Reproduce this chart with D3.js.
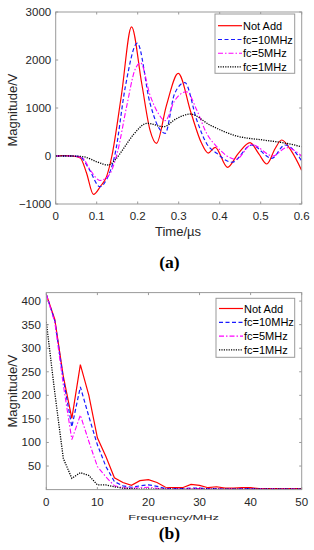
<!DOCTYPE html>
<html>
<head>
<meta charset="utf-8">
<script src="https://cdn.jsdelivr.net/npm/d3@7/dist/d3.min.js"></script>
<style>
html,body{margin:0;padding:0;background:#fff;}
svg{display:block;}
text{font-family:Arial,"Liberation Sans",sans-serif;}
</style>
</head>
<body>
<svg id="chart" width="314" height="550"></svg>
<script>
// ---------- Data (a): time domain ----------
const seriesNames = ["Not Add", "fc=10MHz", "fc=5MHz", "fc=1MHz"];
const timeTicks = [0, 0.1, 0.2, 0.3, 0.4, 0.5, 0.6];
const magTicksA = [-1000, 0, 1000, 2000, 3000];

const tNotAdd = [0, 0.02, 0.04, 0.06, 0.075, 0.092, 0.11, 0.124, 0.137, 0.16, 0.185, 0.21, 0.23, 0.246, 0.27, 0.299, 0.33, 0.355, 0.372, 0.389, 0.419, 0.445, 0.474, 0.495, 0.515, 0.535, 0.551, 0.575, 0.6];
const vNotAdd = [0, 10, 0, -40, -350, -800, -620, -430, 0, 1250, 2690, 1500, 540, 264, 1050, 1720, 900, 280, 60, 180, -236, 50, 278, 50, -167, 150, 333, 100, -300];

const t10 = [0, 0.04, 0.06, 0.08, 0.108, 0.124, 0.145, 0.17, 0.199, 0.23, 0.25, 0.267, 0.29, 0.315, 0.344, 0.368, 0.393, 0.43, 0.478, 0.527, 0.559, 0.6];
const v10 = [0, 0, -20, -250, -640, -490, 50, 1450, 2350, 1100, 610, 472, 1300, 1530, 750, 260, 56, -130, 229, -49, 229, -100];

const t5 = [0, 0.04, 0.065, 0.085, 0.108, 0.13, 0.15, 0.173, 0.193, 0.207, 0.23, 0.25, 0.267, 0.29, 0.319, 0.344, 0.368, 0.393, 0.44, 0.478, 0.53, 0.563, 0.6];
const v5 = [0, 0, -40, -300, -510, -400, 60, 1030, 1790, 1940, 1270, 890, 736, 1150, 1340, 958, 472, 194, -70, 240, 0, 174, 0];

const t1 = [0, 0.04, 0.07, 0.1, 0.128, 0.145, 0.165, 0.19, 0.223, 0.263, 0.295, 0.328, 0.376, 0.441, 0.506, 0.553, 0.6];
const v1 = [0, 0, -20, -120, -188, -80, 150, 450, 681, 611, 780, 875, 646, 417, 333, 278, 194];

// ---------- Data (b): spectrum ----------
const freqTicks = [0, 10, 20, 30, 40, 50];
const magTicksB = [50, 100, 150, 200, 250, 300, 350, 400];
const freqs = [0, 1.667, 3.333, 5, 6.667, 8.333, 10, 11.667, 13.333, 15, 16.667, 18.333, 20, 21.667, 23.333, 25, 26.667, 28.333, 30, 31.667, 33.333, 35, 36.667, 38.333, 40, 41.667, 43.333, 45, 46.667, 48.333, 50];
const sNotAdd = [414, 361, 240, 151, 265, 200, 110, 70, 25, 15, 9, 19, 21, 15, 5, 4, 4, 11, 9, 4, 6, 3, 3, 4, 4, 2, 2, 2, 2, 2, 2];
const s10 = [414, 358, 235, 133, 218, 155, 95, 49, 17, 8, 5, 8, 10, 7, 2, 2, 2, 3, 3, 2, 2, 1, 1, 2, 2, 1, 1, 1, 1, 1, 1];
const s5 = [414, 355, 222, 106, 158, 102, 49, 27, 8, 4, 3, 4, 5, 3, 1, 1, 1, 2, 2, 1, 1, 1, 1, 1, 1, 1, 1, 1, 1, 1, 1];
const s1 = [356, 205, 66, 24, 36, 30, 10, 10, 6, 3, 2, 1, 1, 1, 1, 1, 1, 1, 1, 1, 1, 1, 1, 1, 1, 1, 1, 1, 1, 1, 1];

// ---------- Styles ----------
const styles = [
  {color: "#ff0000", dash: null, width: 1.2},
  {color: "#1a1aff", dash: "4,2.5", width: 1.2},
  {color: "#ff00ff", dash: "5,2,1.5,2", width: 1.1},
  {color: "#000000", dash: "1.2,1.2", width: 1.3}
];

const svg = d3.select("#chart");
svg.append("rect").attr("width", 314).attr("height", 550).attr("fill", "#fff");

const frameColor = "#9a9a9a";
const textColor = "#262626";

function drawPanel(cfg) {
  const {x, y, xTicks, yTicks, xFmt, yFmt, series, curve, id, legend} = cfg;
  const g = svg.append("g");
  const [x0, x1] = x.range();
  const [y0, y1] = y.range();

  g.append("clipPath").attr("id", id).append("rect")
    .attr("x", x0).attr("y", y1).attr("width", x1 - x0).attr("height", y0 - y1);

  const tl = 2.5;
  xTicks.forEach(v => {
    const px = x(v);
    g.append("line").attr("x1", px).attr("x2", px).attr("y1", y0).attr("y2", y0 - tl).attr("stroke", frameColor);
    g.append("line").attr("x1", px).attr("x2", px).attr("y1", y1).attr("y2", y1 + tl).attr("stroke", frameColor);
    g.append("text").attr("x", px).attr("y", y0 + 16).attr("text-anchor", "middle")
      .attr("font-size", 11.5).attr("fill", textColor).text(xFmt(v));
  });
  yTicks.forEach(v => {
    const py = y(v);
    g.append("line").attr("x1", x0).attr("x2", x0 + tl).attr("y1", py).attr("y2", py).attr("stroke", frameColor);
    g.append("line").attr("x1", x1).attr("x2", x1 - tl).attr("y1", py).attr("y2", py).attr("stroke", frameColor);
    g.append("text").attr("x", x0 - cfg.yLabelGap).attr("y", py + 4).attr("text-anchor", "end")
      .attr("font-size", 11.5).attr("fill", textColor).text(yFmt(v));
  });

  const lineG = g.append("g").attr("clip-path", `url(#${id})`);
  series.forEach((s, i) => {
    const pts = s.xs.map((xv, k) => [xv, s.ys[k]]);
    const line = d3.line().x(d => x(d[0])).y(d => y(d[1])).curve(curve);
    lineG.append("path").attr("d", line(pts)).attr("fill", "none")
      .attr("stroke", styles[i].color).attr("stroke-width", styles[i].width)
      .attr("stroke-dasharray", styles[i].dash);
  });

  g.append("rect").attr("x", x0).attr("y", y1).attr("width", x1 - x0).attr("height", y0 - y1)
    .attr("fill", "none").attr("stroke", frameColor).attr("stroke-width", 1);

  const L = legend;
  const lg = g.append("g");
  lg.append("rect").attr("x", L.x).attr("y", L.y).attr("width", L.w).attr("height", L.h)
    .attr("fill", "#fff").attr("stroke", frameColor);
  seriesNames.forEach((name, i) => {
    const ry = L.rowY[i];
    lg.append("line").attr("x1", L.x + 3).attr("x2", L.x + 27).attr("y1", ry).attr("y2", ry)
      .attr("stroke", styles[i].color).attr("stroke-width", styles[i].width)
      .attr("stroke-dasharray", styles[i].dash);
    lg.append("text").attr("x", L.x + 28).attr("y", ry + 4).attr("font-size", 11)
      .attr("fill", "#000").text(name);
  });
  return g;
}

// Panel (a)
const xA = d3.scaleLinear().domain([0, 0.6]).range([55.7, 301.7]);
const yA = d3.scaleLinear().domain([-1000, 3000]).range([204, 12]);
drawPanel({
  id: "clipA", x: xA, y: yA, xTicks: timeTicks, yTicks: magTicksA,
  xFmt: d3.format("~g"), yFmt: d3.format("d"), yLabelGap: 4.5,
  curve: d3.curveMonotoneX,
  series: [
    {xs: tNotAdd, ys: vNotAdd}, {xs: t10, ys: v10}, {xs: t5, ys: v5}, {xs: t1, ys: v1}
  ],
  legend: {x: 215, y: 14, w: 79.7, h: 59.3, rowY: [25.7, 39.5, 53.3, 66.8]}
});
svg.append("text").attr("x", 178).attr("y", 236).attr("text-anchor", "middle")
  .attr("font-size", 13).attr("fill", textColor).text("Time/µs");
svg.append("text").attr("transform", "translate(16.5,110) rotate(-90)").attr("text-anchor", "middle")
  .attr("font-size", 13).attr("fill", textColor).text("Magnitude/V");
svg.append("text").attr("x", 169.5).attr("y", 268).attr("text-anchor", "middle")
  .attr("font-size", 17.5).attr("font-weight", "bold").style("font-family", "'Liberation Serif','DejaVu Serif',serif")
  .attr("fill", "#000").text("(a)");

// Panel (b)
const xB = d3.scaleLinear().domain([0, 50]).range([46.3, 301.7]);
const yB = d3.scaleLinear().domain([0, 418]).range([489.6, 292.6]);
drawPanel({
  id: "clipB", x: xB, y: yB, xTicks: freqTicks, yTicks: magTicksB,
  xFmt: d3.format("d"), yFmt: d3.format("d"), yLabelGap: 5.5,
  curve: d3.curveLinear,
  series: [
    {xs: freqs, ys: sNotAdd}, {xs: freqs, ys: s10}, {xs: freqs, ys: s5}, {xs: freqs, ys: s1}
  ],
  legend: {x: 216, y: 298.3, w: 78.7, h: 59, rowY: [308.5, 322.3, 336.1, 349.9]}
});
svg.append("text").attr("x", 128.3).attr("y", 520).attr("text-anchor", "start")
  .attr("font-size", 8).attr("textLength", 90.7).attr("lengthAdjust", "spacingAndGlyphs")
  .attr("fill", textColor).text("Frequency/MHz");
svg.append("text").attr("transform", "translate(16.5,391) rotate(-90)").attr("text-anchor", "middle")
  .attr("font-size", 13).attr("fill", textColor).text("Magnitude/V");
svg.append("text").attr("x", 169.5).attr("y", 539).attr("text-anchor", "middle")
  .attr("font-size", 17.5).attr("font-weight", "bold").style("font-family", "'Liberation Serif','DejaVu Serif',serif")
  .attr("fill", "#000").text("(b)");
</script>
</body>
</html>
